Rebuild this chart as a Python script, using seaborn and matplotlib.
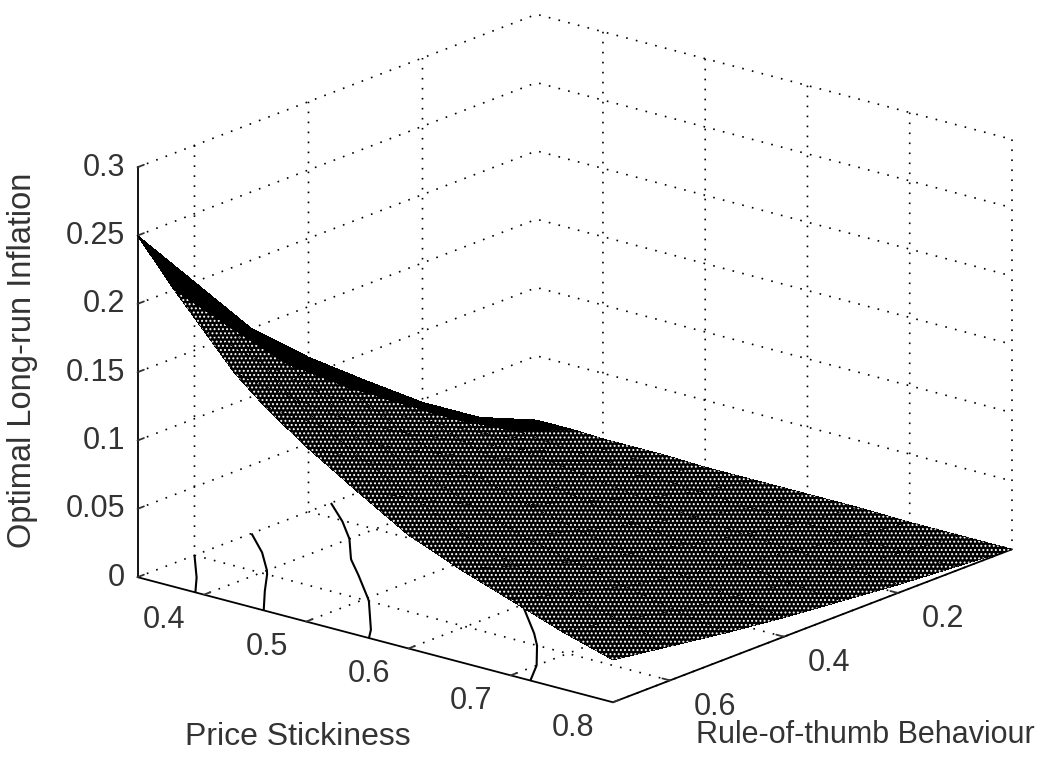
import matplotlib
matplotlib.use("Agg")
import numpy as np
import matplotlib.pyplot as plt
import seaborn as sns

# valori
rule_of_thumb = [0.0, 0.1, 0.2, 0.3, 0.4, 0.5, 0.6, 0.7]
stickiness = [0.335, 0.37, 0.40, 0.43, 0.46, 0.50, 0.55, 0.60, 0.65, 0.70, 0.75, 0.80]
inflation = [
    [.003, .021, .048, .080, .113, .150, .200, .250],
    [.003, .018, .042, .070, .099, .131, .174, .218],
    [.002, .016, .037, .062, .087, .116, .154, .193],
    [.002, .014, .032, .054, .076, .101, .134, .168],
    [.002, .013, .029, .048, .067, .089, .119, .149],
    [.001, .011, .025, .041, .058, .077, .102, .128],
    [.001, .009, .020, .034, .047, .063, .084, .105],
    [.001, .007, .016, .027, .038, .050, .066, .083],
    [.001, .006, .013, .022, .031, .041, .054, .068],
    [0, .005, .011, .018, .025, .033, .044, .055],
    [0, .004, .008, .013, .019, .025, .034, .042],
    [0, .003, .006, .010, .014, .019, .025, .031],
]
contour_levels = [0.05, 0.1, 0.15, 0.2]
rot_ticks = [0.2, 0.4, 0.6]
stick_ticks = [0.4, 0.5, 0.6, 0.7, 0.8]
z_ticks = [0, 0.05, 0.1, 0.15, 0.2, 0.25, 0.3]
z_labels = ["0", "0.05", "0.1", "0.15", "0.2", "0.25", "0.3"]

sns.set_style("white")
plt.rcParams["font.family"] = ["Liberation Sans", "DejaVu Sans"]
plt.rcParams["hatch.color"] = "white"
plt.rcParams["hatch.linewidth"] = 0.9

TEXT = "#333333"

fig = plt.figure(figsize=(10.41, 7.57), dpi=100)
ax = fig.add_axes([44 / 1041, 10 / 757, 1, 1], projection="3d", computed_zorder=False)
ax.set_proj_type("ortho")
ax.view_init(elev=18.52, azim=39.64)
ax.set_box_aspect((625, 617, 432), zoom=1.256)

X, Y = np.meshgrid(rule_of_thumb, stickiness)
Z = np.array(inflation)

ax.contour(X, Y, Z, levels=contour_levels, zdir="z", offset=0, colors="black",
           linewidths=1.5, zorder=2)
surf = ax.plot_surface(X, Y, Z, color="black", shade=False, rstride=1, cstride=1,
                       linewidth=0, antialiased=False, zorder=3)
surf.set_hatch("....")
surf.set_clip_on(False)
# la fascia alta della superficie e' quasi tutta nera
band = ax.plot_surface(X[:2], Y[:2], Z[:2], color="black", shade=False, rstride=1, cstride=1,
                       linewidth=0, antialiased=False, zorder=4)
band.set_clip_on(False)

ax.set_xlim(0, 0.7)
ax.set_ylim(0.335, 0.8)
ax.set_zlim(0, 0.3)
ax.set_xticks(rot_ticks)
ax.set_yticks(stick_ticks)
ax.set_zticks(z_ticks)
ax.set_zticklabels(z_labels)
ax.tick_params(labelsize=22, colors=TEXT)
ax.tick_params(axis="x", pad=6)
ax.tick_params(axis="y", pad=5)
ax.tick_params(axis="z", pad=-4)

for axis in [ax.xaxis, ax.yaxis, ax.zaxis]:
    axis.set_pane_color((1, 1, 1, 0))
    axis.line.set_color("black")
    axis.line.set_linewidth(1.3)
    axis._axinfo["grid"].update(color="black", linestyle=(0, (1, 5)), linewidth=1.2)
    axis._axinfo["tick"].update(inward_factor=0.0, outward_factor=0.2)
    axis._axinfo["tick"]["linewidth"] = {True: 1.3, False: 1.0}
ax.zaxis.set_ticks_position("lower")

for label in ax.get_xticklabels():
    label.set_ha("left")
    label.set_va("center")
for label in ax.get_yticklabels():
    label.set_ha("right")
    label.set_va("center")
for label in ax.get_zticklabels():
    label.set_ha("right")
    label.set_va("center")

fig.text(298 / 1041, 1 - 737 / 757, "Price Stickiness", fontsize=23, ha="center", va="center", color=TEXT)
fig.text(865 / 1041, 1 - 735 / 757, "Rule-of-thumb Behaviour", fontsize=22, ha="center", va="center", color=TEXT)
fig.text(23 / 1041, 1 - 360 / 757, "Optimal Long-run Inflation", fontsize=23.5, rotation=90,
         ha="center", va="center", color=TEXT)

fig.savefig("out.png", dpi=100)
